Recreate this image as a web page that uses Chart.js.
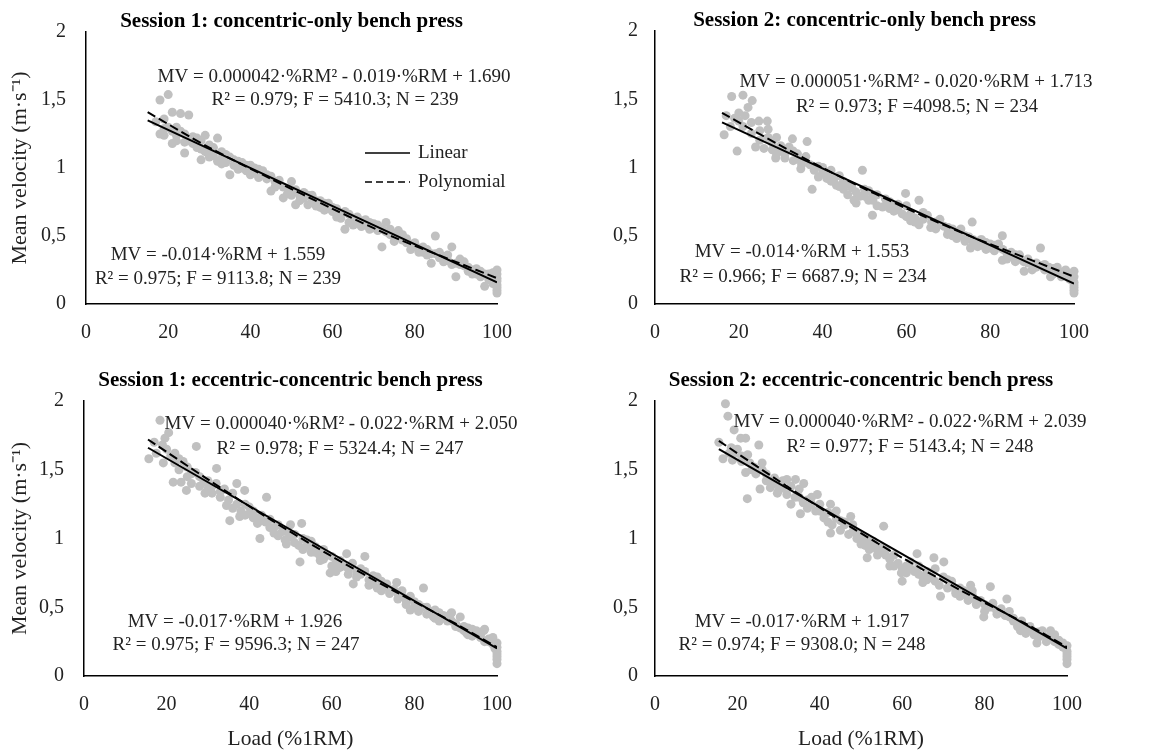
<!DOCTYPE html>
<html>
<head>
<meta charset="utf-8">
<script src="https://cdn.jsdelivr.net/npm/chart.js@4.4.1/dist/chart.umd.min.js"></script>
<style>
  body { margin: 0; background: #fff; }
  #wrap { position: relative; width: 1167px; height: 754px; overflow: hidden; }
  #wrap canvas { position: absolute; }
</style>
</head>
<body>
<div id="wrap">
  <canvas id="c1" width="583" height="377" style="left:0;top:0"></canvas>
  <canvas id="c2" width="576" height="377" style="left:577px;top:0"></canvas>
  <canvas id="c3" width="583" height="389" style="left:0;top:365px"></canvas>
  <canvas id="c4" width="576" height="389" style="left:577px;top:365px"></canvas>
</div>
<script>
// axis ticks
const loadTicks = [0, 20, 40, 60, 80, 100];
const velTicks = [0, 0.5, 1, 1.5, 2];

// Session 1, concentric-only
const s1cLoad = [17,18,18,19,19,20,20,21,21,22,22,23,23,24,24,25,25,26,27,28,28,29,29,30,30,31,32,32,33,33,34,35,35,36,37,38,39,40,40,41,42,43,44,45,45,46,47,48,48,49,50,50,51,52,53,54,55,56,57,58,59,60,61,62,63,63,64,65,66,67,68,69,70,71,72,72,73,74,75,76,77,78,79,80,81,82,83,84,85,85,86,87,88,89,90,90,91,92,93,94,95,96,97,98,99,99,100,100,100,100,100,100,
    19,21,22,24,26,27,28,30,31,33,34,36,37,38,39,41,42,43,44,46,47,49,51,52,53,54,55,56,57,58,59,60,61,62,64,65,66,67,68,69,70,71,73,74,75,76,77,78,79,80,81,82,83,84,86,87,88,89,91,92,93,94,95,96,97,98,99,100,100];
const s1cMV = [1.34,1.50,1.25,1.24,1.36,1.54,1.30,1.41,1.18,1.30,1.20,1.40,1.27,1.11,1.25,1.39,1.20,1.18,1.22,1.06,1.20,1.24,1.12,1.12,1.08,1.15,1.22,1.05,1.12,1.07,1.04,0.95,1.08,1.02,1.05,1.00,0.98,0.95,1.02,0.97,0.99,0.98,0.92,0.83,0.94,0.90,0.88,0.78,0.86,0.85,0.90,0.80,0.73,0.80,0.78,0.73,0.80,0.76,0.71,0.74,0.70,0.68,0.64,0.66,0.55,0.68,0.60,0.63,0.59,0.61,0.58,0.60,0.59,0.54,0.42,0.55,0.60,0.51,0.50,0.54,0.47,0.45,0.44,0.42,0.41,0.38,0.36,0.30,0.50,0.37,0.34,0.35,0.32,0.42,0.20,0.30,0.33,0.28,0.24,0.22,0.26,0.20,0.13,0.22,0.15,0.20,0.08,0.12,0.17,0.22,0.25,0.19,
    1.29,1.27,1.24,1.19,1.23,1.15,1.14,1.17,1.09,1.03,1.10,1.06,0.99,1.04,1.02,1.00,0.93,0.95,0.95,0.86,0.91,0.81,0.84,0.76,0.82,0.80,0.75,0.72,0.76,0.69,0.74,0.71,0.70,0.63,0.66,0.58,0.64,0.57,0.62,0.55,0.56,0.58,0.53,0.55,0.46,0.49,0.51,0.48,0.40,0.45,0.38,0.42,0.40,0.37,0.38,0.31,0.36,0.29,0.29,0.31,0.27,0.25,0.22,0.24,0.22,0.18,0.23,0.14,0.10];
const s1cLinX = [15, 100];
const s1cLinY = [1.35, 0.16];
const s1cPolyX = [15, 30, 45, 60, 75, 90, 100];
const s1cPolyY = [1.41, 1.15, 0.92, 0.70, 0.49, 0.31, 0.19];

// Session 2, concentric-only
const s2cLoad = [16.5,17,18.3,19,19.6,20,21,21,22.2,23.2,23,24,24.8,25,26.8,27,28,28.8,29,30,31,32,32.8,33,34,34.8,35,36.3,37,37.5,38,39,40,41,42,43.3,44,45,46,47.5,48,49.5,50,51,51.9,52,53,54.3,55,56,57,58,59.8,60,61,62,63,64,65,65.8,67,68,69,69.8,70,71,72,73,74,75,75.7,75.3,76,77.7,78,79,80,81,82,82.9,82.9,84,85,86,87,88.1,88,89,90,91,92,93,94.4,94,95,96,97,98,99,100,100,100,100,100,
    18,20,21.5,23,25,26,27,28,29,30,31,33,34,35,36,38,39,40,41,42,43,44,45,46,47,48,49,50,51,52,53,55,56,57,58,59,60,61,62,63,64,66,67,68,70,71,72,73,74,76,77,78,79,80,81,83,84,85,86,87,89,90,91,92,93,95,96,97,98,99,100,100];
const s2cMV = [1.24,1.38,1.52,1.36,1.12,1.40,1.53,1.30,1.44,1.49,1.25,1.15,1.34,1.20,1.34,1.28,1.18,1.07,1.22,1.12,1.10,1.15,1.21,1.05,1.10,0.99,1.05,1.19,1.02,0.84,0.98,1.01,0.96,0.92,0.98,0.87,0.94,0.90,0.88,0.76,0.82,0.98,0.79,0.83,0.65,0.76,0.80,0.71,0.77,0.75,0.72,0.69,0.81,0.72,0.61,0.63,0.76,0.62,0.65,0.56,0.60,0.58,0.57,0.51,0.56,0.55,0.52,0.50,0.46,0.49,0.60,0.41,0.47,0.47,0.43,0.45,0.41,0.39,0.44,0.50,0.32,0.37,0.35,0.36,0.33,0.24,0.31,0.30,0.29,0.27,0.41,0.25,0.20,0.27,0.26,0.24,0.23,0.21,0.18,0.08,0.12,0.16,0.20,0.24,
    1.30,1.34,1.38,1.33,1.27,1.14,1.22,1.13,1.10,1.16,1.07,1.12,1.06,1.02,1.08,1.00,0.93,1.00,0.95,0.90,0.93,0.86,0.84,0.80,0.85,0.74,0.79,0.84,0.76,0.80,0.72,0.72,0.70,0.68,0.73,0.66,0.64,0.66,0.60,0.58,0.67,0.60,0.55,0.62,0.53,0.50,0.48,0.55,0.50,0.45,0.42,0.47,0.40,0.44,0.43,0.40,0.33,0.38,0.31,0.36,0.33,0.25,0.30,0.28,0.29,0.22,0.27,0.20,0.25,0.22,0.14,0.10];
const s2cLinX = [16, 100];
const s2cLinY = [1.33, 0.15];
const s2cPolyX = [16, 30, 45, 60, 75, 90, 100];
const s2cPolyY = [1.40, 1.16, 0.92, 0.70, 0.50, 0.32, 0.20];

// Session 1, eccentric-concentric
const s1eLoad = [15.7,17,18.4,19.2,19.6,20,20.5,21.6,22,23,23.5,24.8,25,26,27.2,28,29.3,30,31,32.1,33,34.5,35.3,36,37,37.7,38.9,39,40,41,42,42.6,43,44.2,45,46,47,48.7,49,50,51,52.3,52.7,53,54,55,56,57.2,58,59.6,60,61,62,63.6,64,65.2,66,67,68,69,70,71,72,73.3,74,75.7,76,77,78,79,80,81,82.2,83,84.6,85,86,87,88.7,89,90,91.1,92,92.7,93,94,95,96,96.8,97,98,99,99.5,100,100,100,100,100,
    17.5,19,21,22,23,24,25,26,27,28,29,30,31,32,33,34,35,36,37,38,39,40,41,42,43,44,45,46,47,48,49,50,51,52,53,54,55,56,57,58,59,60,61,62,63,64,65,66,67,68,69,70,71,72,73,74,75,76,77,78,79,80,81,82,83,84,85,86,87,88,89,90,91,92,93,94,95,96,97,98,99,100,100];
const s1eMV = [1.58,1.70,1.86,1.55,1.73,1.65,1.77,1.41,1.62,1.58,1.41,1.35,1.52,1.47,1.67,1.45,1.33,1.42,1.38,1.51,1.34,1.24,1.13,1.33,1.40,1.16,1.35,1.25,1.18,1.15,1.11,1.00,1.17,1.30,1.14,1.08,1.10,0.99,1.05,1.10,0.97,0.83,1.11,1.00,0.95,0.98,0.90,0.84,0.92,0.75,0.87,0.82,0.79,0.89,0.78,0.67,0.76,0.74,0.87,0.70,0.67,0.72,0.69,0.67,0.62,0.68,0.60,0.58,0.55,0.48,0.54,0.52,0.64,0.50,0.43,0.48,0.46,0.43,0.45,0.40,0.38,0.43,0.36,0.31,0.35,0.34,0.31,0.28,0.33,0.25,0.27,0.23,0.20,0.09,0.14,0.18,0.24,0.21,
    1.62,1.68,1.60,1.55,1.50,1.56,1.45,1.40,1.48,1.38,1.41,1.36,1.33,1.40,1.30,1.36,1.28,1.22,1.25,1.20,1.17,1.23,1.20,1.15,1.13,1.12,1.08,1.04,1.02,1.05,0.96,1.01,1.03,0.95,0.92,0.99,0.90,0.94,0.88,0.85,0.88,0.80,0.76,0.84,0.80,0.74,0.82,0.72,0.78,0.76,0.66,0.73,0.64,0.62,0.65,0.60,0.63,0.56,0.62,0.52,0.58,0.50,0.47,0.50,0.45,0.47,0.42,0.40,0.44,0.40,0.46,0.36,0.35,0.33,0.30,0.29,0.33,0.30,0.34,0.25,0.28,0.12,0.16];
const s1eLinX = [15.5, 100];
const s1eLinY = [1.66, 0.20];
const s1ePolyX = [15.5, 30, 45, 60, 75, 90, 100];
const s1ePolyY = [1.72, 1.43, 1.14, 0.87, 0.62, 0.38, 0.21];

// Session 2, eccentric-concentric
const s2eLoad = [15.5,17.1,17.7,18,18.8,19.2,20,20.8,21,22,22,22.4,23,24,25.2,25.5,26,27,28,29,29.7,30,31,32,33,34.1,35,35.3,36.1,37,38,39.4,40,41,42,42.6,42.6,44,45,46,47.5,48,49,50,51,51.5,52,53,53.9,55,55.5,56,57,58,59.8,60,61,62,63.6,64,65,66,67.7,68,69.3,70.1,71,72,73,74,75.7,76.6,77,78,79.8,80,81.4,82,83,84,85.4,86,87,88,88.7,89,90,91,92.7,93,94,95,96,97,98,99,100,100,100,100,
    16.5,18.5,19.5,21,22.5,23.5,24.5,26,27,28,29,30,31,32,33,34,35,36,37,38,39,40,41,42,43,44,45,46,47,48,49,50,51,52,53,54,55,56,57,58,59,60,61,62,63,64,65,66,67,68,69,70,71,72,73,74,75,76,77,78,79,80,81,82,83,84,85,86,87,88,89,90,91,92,93,94,95,96,97,98,99,100,100];
const s2eMV = [1.70,1.98,1.89,1.62,1.57,1.79,1.65,1.73,1.60,1.73,1.48,1.29,1.55,1.52,1.68,1.36,1.55,1.47,1.41,1.44,1.33,1.40,1.37,1.43,1.25,1.43,1.30,1.18,1.40,1.28,1.25,1.32,1.20,1.15,1.19,1.04,1.25,1.15,1.13,1.10,1.16,1.05,1.00,1.02,0.95,0.86,0.98,0.94,0.92,0.90,1.09,0.88,0.85,0.80,0.75,0.69,0.80,0.78,0.89,0.74,0.72,0.70,0.86,0.69,0.58,0.83,0.70,0.66,0.62,0.64,0.58,0.66,0.59,0.55,0.43,0.52,0.65,0.50,0.47,0.46,0.56,0.43,0.40,0.38,0.33,0.36,0.35,0.33,0.24,0.32,0.30,0.28,0.33,0.25,0.23,0.21,0.09,0.14,0.18,0.22,
    1.58,1.66,1.62,1.56,1.61,1.50,1.47,1.50,1.42,1.37,1.40,1.35,1.42,1.32,1.38,1.30,1.36,1.26,1.22,1.30,1.20,1.25,1.18,1.12,1.10,1.20,1.06,1.12,1.03,1.10,1.04,0.96,1.00,0.92,0.98,0.88,0.94,0.92,0.80,0.88,0.82,0.78,0.75,0.83,0.76,0.80,0.68,0.76,0.72,0.78,0.66,0.72,0.64,0.69,0.60,0.58,0.62,0.55,0.62,0.52,0.55,0.47,0.50,0.53,0.45,0.49,0.44,0.47,0.42,0.36,0.40,0.31,0.36,0.30,0.28,0.33,0.25,0.28,0.30,0.26,0.24,0.12,0.16];
const s2eLinX = [15.5, 100];
const s2eLinY = [1.65, 0.20];
const s2ePolyX = [15.5, 30, 45, 60, 75, 90, 100];
const s2ePolyY = [1.71, 1.42, 1.13, 0.86, 0.61, 0.38, 0.21];

const SERIF = "'Liberation Serif', 'Times New Roman', serif";

function toPoints(xs, ys) {
    return xs.map((x, i) => ({ x: x, y: ys[i] }));
}

// text notes drawn on the canvas (equations, stats, legend)
const notesPlugin = {
    id: 'notes',
    afterDatasetsDraw(chart, args, opts) {
        const ctx = chart.ctx;
        ctx.save();
        ctx.fillStyle = '#222';
        ctx.font = '19px ' + SERIF;
        ctx.textAlign = 'center';
        ctx.textBaseline = 'middle';
        (opts.lines || []).forEach(l => ctx.fillText(l.text, l.x, l.y));

        if (opts.legend) {
            const lg = opts.legend;
            const items = [
                { label: 'Linear', dash: [] },
                { label: 'Polynomial', dash: [7, 4] }
            ];
            items.forEach((it, i) => {
                const y = lg.y + i * lg.gap;
                ctx.strokeStyle = '#000';
                ctx.lineWidth = 1.5;
                ctx.setLineDash(it.dash);
                ctx.beginPath();
                ctx.moveTo(lg.x, y);
                ctx.lineTo(lg.x + 45, y);
                ctx.stroke();
                ctx.setLineDash([]);
                ctx.textAlign = 'left';
                ctx.fillText(it.label, lg.x + 53, y);
            });
        }
        ctx.restore();
    }
};

function makePanel(id, p) {
    const ctx = document.getElementById(id).getContext('2d');
    return new Chart(ctx, {
        type: 'scatter',
        data: {
            datasets: [
                {
                    label: 'Linear',
                    data: toPoints(p.linX, p.linY),
                    showLine: true,
                    borderColor: '#000',
                    borderWidth: 2,
                    pointRadius: 0,
                    order: 0
                },
                {
                    label: 'Polynomial',
                    data: toPoints(p.polyX, p.polyY),
                    showLine: true,
                    borderColor: '#000',
                    borderWidth: 2,
                    borderDash: [9, 4],
                    tension: 0.3,
                    pointRadius: 0,
                    order: 1
                },
                {
                    label: 'Data',
                    data: toPoints(p.load, p.mv),
                    backgroundColor: '#c0c0c0',
                    borderWidth: 0,
                    pointRadius: 4.5,
                    clip: 8,
                    order: 2
                }
            ]
        },
        options: {
            responsive: false,
            animation: false,
            layout: { padding: { left: 0, right: p.padRight, top: 0, bottom: 0 } },
            plugins: {
                legend: { display: false },
                tooltip: { enabled: false },
                title: {
                    display: true,
                    fullSize: false,
                    text: p.title,
                    color: '#000',
                    font: { family: SERIF, size: 21, weight: 'bold', lineHeight: 1 },
                    padding: p.titlePad
                },
                notes: { lines: p.notes, legend: p.legend }
            },
            scales: {
                x: {
                    type: 'linear',
                    min: 0,
                    max: 100,
                    afterFit: s => { s.height = p.xHeight; },
                    afterBuildTicks: s => { s.ticks = loadTicks.map(v => ({ value: v })); },
                    grid: { display: false, drawTicks: false },
                    border: { display: true, color: '#000', width: 1.5 },
                    ticks: { color: '#222', padding: 17, font: { family: SERIF, size: 20 } },
                    title: {
                        display: !!p.xTitle,
                        text: p.xTitle || '',
                        color: '#222',
                        font: { family: SERIF, size: 21.5 },
                        padding: { top: 0, bottom: 2 }
                    }
                },
                y: {
                    type: 'linear',
                    min: 0,
                    max: 2,
                    afterFit: s => { s.width = p.yWidth; },
                    afterBuildTicks: s => { s.ticks = velTicks.map(v => ({ value: v })); },
                    grid: { display: false, drawTicks: false },
                    border: { display: true, color: '#000', width: 1.5 },
                    ticks: {
                        color: '#222',
                        padding: p.yPad,
                        font: { family: SERIF, size: 20 },
                        callback: v => String(v).replace('.', ',')
                    },
                    title: {
                        display: !!p.yTitle,
                        text: p.yTitle || '',
                        color: '#222',
                        font: { family: SERIF, size: 22 },
                        padding: { top: 7, bottom: 0 }
                    }
                }
            }
        },
        plugins: [notesPlugin]
    });
}

document.addEventListener('DOMContentLoaded', function() {
    makePanel('c1', {
        title: 'Session 1: concentric-only bench press',
        load: s1cLoad, mv: s1cMV,
        linX: s1cLinX, linY: s1cLinY, polyX: s1cPolyX, polyY: s1cPolyY,
        padRight: 86, yWidth: 86, xHeight: 73, yPad: 20,
        titlePad: { top: 10, bottom: 0 },
        yTitle: 'Mean velocity (m·s⁻¹)',
        notes: [
            { text: 'MV = 0.000042·%RM² - 0.019·%RM + 1.690', x: 334, y: 77 },
            { text: 'R² = 0.979; F = 5410.3; N = 239', x: 335, y: 100 },
            { text: 'MV = -0.014·%RM + 1.559', x: 218, y: 255 },
            { text: 'R² = 0.975; F = 9113.8; N = 239', x: 218, y: 279 }
        ],
        legend: { x: 365, y: 153, gap: 29 }
    });

    makePanel('c2', {
        title: 'Session 2: concentric-only bench press',
        load: s2cLoad, mv: s2cMV,
        linX: s2cLinX, linY: s2cLinY, polyX: s2cPolyX, polyY: s2cPolyY,
        padRight: 79, yWidth: 78, xHeight: 73, yPad: 17,
        titlePad: { top: 10, bottom: 0 },
        notes: [
            { text: 'MV = 0.000051·%RM² - 0.020·%RM + 1.713', x: 339, y: 82 },
            { text: 'R² = 0.973; F =4098.5; N = 234', x: 340, y: 107 },
            { text: 'MV = -0.014·%RM + 1.553', x: 225, y: 252 },
            { text: 'R² = 0.966; F = 6687.9; N = 234', x: 226, y: 277 }
        ]
    });

    makePanel('c3', {
        title: 'Session 1: eccentric-concentric bench press',
        load: s1eLoad, mv: s1eMV,
        linX: s1eLinX, linY: s1eLinY, polyX: s1ePolyX, polyY: s1ePolyY,
        padRight: 86, yWidth: 84, xHeight: 78, yPad: 20,
        titlePad: { top: 5, bottom: 10 },
        yTitle: 'Mean velocity (m·s⁻¹)',
        xTitle: 'Load (%1RM)',
        notes: [
            { text: 'MV = 0.000040·%RM² - 0.022·%RM + 2.050', x: 341, y: 59 },
            { text: 'R² = 0.978; F = 5324.4; N = 247', x: 340, y: 84 },
            { text: 'MV = -0.017·%RM + 1.926', x: 235, y: 257 },
            { text: 'R² = 0.975; F = 9596.3; N = 247', x: 236, y: 280 }
        ]
    });

    makePanel('c4', {
        title: 'Session 2: eccentric-concentric bench press',
        load: s2eLoad, mv: s2eMV,
        linX: s2eLinX, linY: s2eLinY, polyX: s2ePolyX, polyY: s2ePolyY,
        padRight: 86, yWidth: 78, xHeight: 78, yPad: 17,
        titlePad: { top: 5, bottom: 10 },
        xTitle: 'Load (%1RM)',
        notes: [
            { text: 'MV = 0.000040·%RM² - 0.022·%RM + 2.039', x: 333, y: 57 },
            { text: 'R² = 0.977; F = 5143.4; N = 248', x: 333, y: 82 },
            { text: 'MV = -0.017·%RM + 1.917', x: 225, y: 257 },
            { text: 'R² = 0.974; F = 9308.0; N = 248', x: 225, y: 280 }
        ]
    });
});
</script>
</body>
</html>
